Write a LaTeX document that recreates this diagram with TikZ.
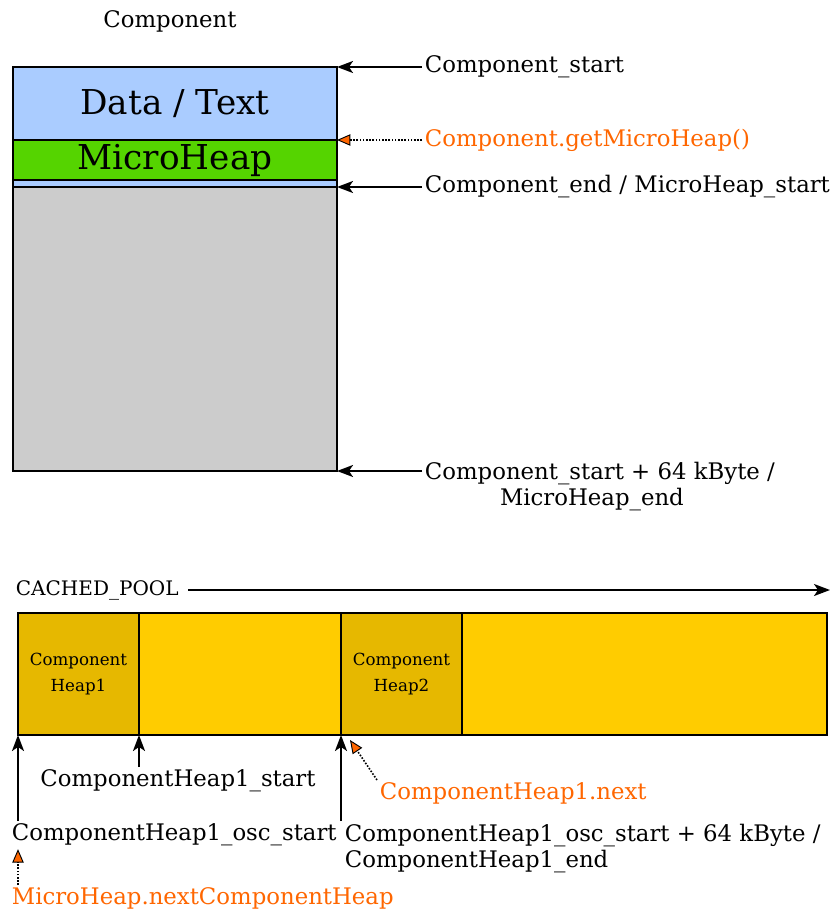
\documentclass[tikz,border=0pt]{standalone}
\usepackage{fontspec}
\setmainfont{DejaVu Serif}
\usetikzlibrary{arrows.meta}

\definecolor{databg}{RGB}{170,204,255}
\definecolor{heapgreen}{RGB}{85,212,0}
\definecolor{restgray}{RGB}{204,204,204}
\definecolor{poolyellow}{RGB}{255,204,0}
\definecolor{heapgold}{RGB}{230,184,0}
\definecolor{ptrorange}{RGB}{255,102,0}

\tikzset{
  box/.style={draw, line width=1.5pt, inner sep=0pt, outer sep=0pt, anchor=north west, minimum width=243pt},
  cell/.style={draw, line width=1.5pt, inner sep=0pt, outer sep=0pt, anchor=north west, minimum height=91.5pt,
    align=center, font=\fontsize{12.5}{20}\selectfont},
  addr/.style={anchor=west, inner sep=2pt, font=\fontsize{17.1}{19.5}\selectfont},
  ptr/.style={addr, text=ptrorange},
  arr/.style={line width=1.5pt, -{Stealth[length=12pt,width=9pt,inset=3pt]}},
  ptrarr/.style={line width=1.2pt, dash pattern=on 1.2pt off 1.2pt,
    -{Triangle[length=10pt,width=8.5pt,fill=ptrorange,line width=0.7pt]}}
}

\begin{document}
\begin{tikzpicture}[x=0.75pt,y=-0.75pt]
        \useasboundingbox (0,0) rectangle (836,913);

        % component block
        \node[addr, anchor=center] at (170,21) (title) {Component};
        \node[box, fill=databg, minimum height=54.75pt, font=\fontsize{25.7}{30}\selectfont] at (13,67) (data) {Data / Text};
        \node[box, fill=heapgreen, minimum height=30pt, font=\fontsize{25.7}{30}\selectfont] at (data.south west) (microheap) {MicroHeap};
        \node[box, fill=databg, minimum height=5.25pt] at (microheap.south west) (gap) {};
        \node[box, fill=restgray, minimum height=213pt] at (gap.south west) (rest) {};

        \node[addr] at (422,67) (cstart) {Component\_start};
        \draw[arr] (cstart.west) -- (data.north east);
        \node[ptr] at (422,140) (getmh) {Component.getMicroHeap()};
        \draw[ptrarr] (getmh.west) -- (microheap.north east);
        \node[addr] at (422,187) (cend) {Component\_end / MicroHeap\_start};
        \draw[arr] (cend.west) -- (rest.north east);
        \node[addr, anchor=north west, align=center] at (422,459) (cend64) {Component\_start + 64 kByte /\\MicroHeap\_end\hspace*{12pt}};
        \draw[arr] (cend64.west |- rest.south east) -- (rest.south east);

        % cached pool
        \node[addr, font=\fontsize{15}{18}\selectfont] at (13,590) (pool) {CACHED\_POOL};
        \coordinate (poolend) at (830,590);
        \draw[arr, shorten <=5pt] (pool.east) -- (poolend);

        \node[cell, fill=heapgold, minimum width=90.75pt] at (18,613) (heap1) {Component\\Heap1};
        \node[cell, fill=poolyellow, minimum width=151.5pt] at (heap1.north east) (free1) {};
        \node[cell, fill=heapgold, minimum width=90.75pt] at (free1.north east) (heap2) {Component\\Heap2};
        \node[cell, fill=poolyellow, minimum width=273.75pt] at (heap2.north east) (free2) {};

        \node[addr, anchor=north] at (178,767) (h1start) {ComponentHeap1\_start};
        \draw[arr] (h1start.north -| heap1.south east) -- (heap1.south east);
        \node[addr, anchor=north west] at (9,821) (oscstart) {ComponentHeap1\_osc\_start};
        \draw[arr] (oscstart.north -| heap1.south west) -- (heap1.south west);
        \node[addr, anchor=north west, align=left] at (342,821) (oscend) {ComponentHeap1\_osc\_start + 64 kByte /\\ComponentHeap1\_end};
        \draw[arr] (oscend.north -| heap2.south west) -- (heap2.south west);

        \node[ptr, anchor=north west] at (377,780) (next) {ComponentHeap1.next};
        \coordinate (nexttip) at (350,740);
        \draw[ptrarr] (next.north west) -- (nexttip);
        \node[ptr, anchor=north west] at (9,885) (mhnext) {MicroHeap.nextComponentHeap};
        \draw[ptrarr] (mhnext.north -| heap1.south west) -- (oscstart.south -| heap1.south west);
    \end{tikzpicture}
\end{document}
